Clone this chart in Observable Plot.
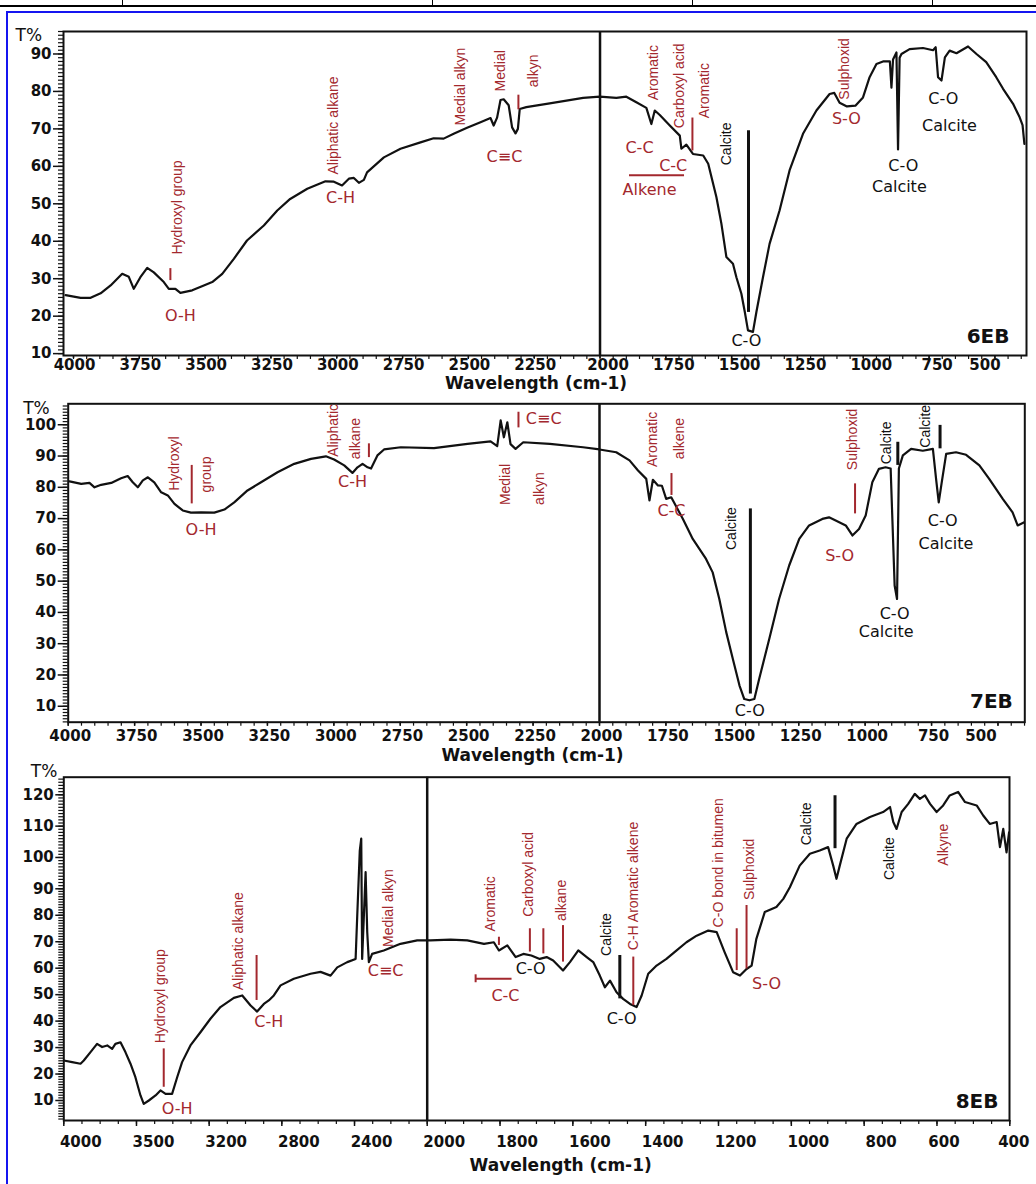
<!DOCTYPE html>
<html>
<head>
<meta charset="utf-8">
<script src="https://cdn.jsdelivr.net/npm/d3@7"></script>
<script src="https://cdn.jsdelivr.net/npm/@observablehq/plot@0.6"></script>
<style>
  html, body { margin: 0; padding: 0; background: #fff; }
  #page { position: relative; width: 1036px; height: 1184px; overflow: hidden; background: #fff; }
  .panel { position: absolute; left: 0; }
  .deco { position: absolute; }
</style>
</head>
<body>
<div id="page"></div>
<script>
// ---------------- DATA ----------------
// 6EB spectrum: wavenumber (cm-1) and transmittance (%)
const wn6EB = [4030,3973,3935,3897,3859,3815,3790,3771,3746,3720,3695,3657,3638,3613,3594,3549,3505,3473,3435,3391,3341,3277,3226,3177,3112,3043,3011,2980,2954,2935,2916,2897,2885,2821,2758,2682,2632,2594,2556,2505,2454,2416,2404,2391,2378,2366,2347,2334,2321,2312,2305,2280,2191,2064,2001,1938,1900,1862,1824,1805,1792,1773,1735,1697,1691,1672,1647,1608,1589,1558,1539,1520,1495,1482,1463,1450,1438,1419,1406,1381,1356,1318,1280,1229,1178,1128,1110,1090,1062,1030,1001,976,950,925,899,893,887,874,868,862,855,824,773,735,725,716,703,690,672,646,602,570,533,495,469,431,406,395,388];
const t6EB  = [25.6,24.9,24.9,26.1,28.2,31.3,30.5,27.3,30.4,32.9,31.7,29.1,27.3,27.3,26.2,26.9,28.2,29.1,31.3,35.3,40.2,44.2,48.2,51.3,54.0,56.0,55.9,54.9,56.7,56.9,55.6,56.4,58.4,62.4,64.7,66.4,67.5,67.4,68.7,70.3,71.8,72.9,70.9,73.0,77.7,77.9,76.3,70.4,68.8,70.0,75.3,75.8,76.8,78.3,78.6,78.3,78.6,77.1,75.6,71.3,74.9,73.7,70.9,68.2,64.7,65.8,63.3,62.9,60.7,51.8,44.7,35.8,34.0,30.4,26.0,21.1,16.2,15.8,21.1,30.4,39.3,48.2,58.9,68.7,74.9,79.3,79.6,77.0,76.0,76.2,78.4,83.8,87.3,88.0,88.0,81.0,88.5,90.4,64.5,89.0,90.0,91.3,91.6,91.0,91.8,83.8,82.9,89.1,90.9,90.2,92.0,90.0,87.8,83.8,80.7,76.7,73.1,71.0,66.0];

// 7EB spectrum
const wn7EB = [3995,3951,3920,3901,3876,3838,3801,3776,3757,3738,3719,3700,3676,3650,3625,3600,3569,3538,3500,3450,3412,3375,3325,3274,3212,3149,3086,3030,2999,2961,2930,2911,2892,2873,2860,2836,2811,2748,2623,2497,2410,2385,2372,2360,2347,2335,2316,2287,2187,2062,2000,1937,1887,1855,1824,1812,1799,1780,1765,1749,1730,1686,1649,1599,1574,1549,1523,1498,1473,1455,1436,1417,1399,1361,1324,1286,1248,1211,1161,1136,1111,1073,1048,1023,998,973,948,923,904,889,880,873,858,827,783,745,733,723,711,695,658,620,570,533,482,445,426,401];
const t7EB  = [81.9,81.1,81.4,80.0,80.8,81.4,82.9,83.6,81.6,80.0,82.2,83.2,81.6,78.4,77.4,74.7,72.6,71.9,72.0,71.9,72.9,75.2,79.0,81.6,84.8,87.5,89.1,89.9,88.9,87.0,84.6,86.4,87.5,86.4,86.0,90.2,92.1,92.8,92.5,93.9,94.7,93.2,101.4,96.0,100.8,93.8,92.3,94.4,93.9,92.8,92.1,91.2,88.6,85.4,82.7,75.8,82.4,80.6,80.5,76.3,76.8,69.9,63.5,57.1,52.8,44.3,33.7,25.1,16.6,12.3,11.9,12.3,18.7,31.5,44.3,55.0,63.5,67.8,69.9,70.4,69.4,67.8,64.6,66.7,71.0,81.6,85.9,86.4,86.0,48.6,44.3,86.0,90.2,92.3,91.7,92.3,82.7,75.2,82.0,90.7,91.2,90.4,87.0,82.7,76.3,72.0,67.8,68.8];

// 8EB spectrum
const wn8EB = [4000,3954,3908,3890,3853,3817,3789,3761,3734,3716,3688,3661,3633,3606,3578,3560,3532,3495,3468,3440,3404,3376,3349,3303,3248,3193,3138,3064,3018,2972,2936,2899,2872,2844,2807,2734,2642,2587,2532,2495,2440,2394,2385,2371,2363,2358,2339,2330,2321,2303,2239,2147,2055,1991,1936,1890,1844,1817,1803,1780,1757,1736,1714,1691,1672,1654,1627,1608,1585,1562,1544,1526,1512,1498,1480,1462,1443,1425,1411,1393,1370,1343,1315,1288,1260,1228,1205,1183,1160,1141,1123,1109,1096,1073,1041,1022,1004,977,949,922,899,885,876,867,848,821,784,748,729,720,711,697,679,661,647,633,619,601,583,565,542,523,491,473,455,436,427,418,409,402];
const t8EB  = [25.1,24.5,23.9,25.1,28.3,31.4,30.2,30.8,29.5,31.4,32.0,28.3,23.9,18.8,11.9,8.7,10.0,11.9,13.8,12.5,12.5,18.8,24.5,30.8,35.8,40.9,45.3,48.8,49.7,45.9,43.6,46.5,47.8,49.7,53.5,56.0,57.9,58.6,57.2,60.3,62.3,63.5,79.9,102.2,106.0,63.5,95.3,73.6,62.3,65.4,66.7,69.2,70.5,70.5,70.8,70.5,69.2,69.8,66.7,68.6,64.2,65.4,64.8,63.5,64.2,62.9,59.1,62.3,66.7,64.2,62.3,57.2,52.8,55.3,50.9,48.4,46.5,45.3,49.7,57.9,61.0,63.5,66.7,69.8,72.3,74.2,73.6,66.0,58.5,57.2,59.7,61.0,71.1,81.2,83.1,86.2,90.5,97.4,101.2,102.2,103.3,97.4,93.2,97.4,106.0,110.7,112.9,114.5,116.1,111.3,109.1,114.5,117.1,120.3,118.7,119.8,117.1,114.5,116.6,119.8,120.9,117.7,116.6,113.4,110.7,111.3,103.3,109.1,101.6,108.0];

// Tick values and labels
const xTicks6 = [4000,3750,3500,3250,3000,2750,2500,2250,2000,1750,1500,1250,1000,750,500];
const yTicks6 = [10,20,30,40,50,60,70,80,90];
const xTicks7 = [4000,3750,3500,3250,3000,2750,2500,2250,2000,1750,1500,1250,1000,750,500];
const yTicks7 = [10,20,30,40,50,60,70,80,90,100];
const xTicks8 = [4000,3600,3200,2800,2400,2000,1800,1600,1400,1200,1000,800,600,400];
const xLabels8 = ["4000","3500","3200","2800","2400","2000","1800","1600","1400","1200","1000","800","600","400"];
const yTicks8 = [10,20,30,40,50,60,70,80,90,100,110,120];

// Band annotations (wavenumber, transmittance, text, kind, rotated)
const labels6EB = [
  {w:3605, t:49,   text:"Hydroxyl group",   kind:"bond", rot:true},
  {w:3594, t:20.2, text:"O-H",              kind:"bond", rot:false},
  {w:3012, t:70.9, text:"Aliphatic alkane", kind:"bond", rot:true},
  {w:2986, t:51.7, text:"C-H",              kind:"bond", rot:false},
  {w:2530, t:81.3, text:"Medial alkyn",     kind:"bond", rot:true},
  {w:2378, t:85.5, text:"Medial",           kind:"bond", rot:true},
  {w:2253, t:85.5, text:"alkyn",            kind:"bond", rot:true},
  {w:2363, t:62.6, text:"C≡C",              kind:"bond", rot:false},
  {w:1797, t:85,   text:"Aromatic",         kind:"bond", rot:true},
  {w:1698, t:81.5, text:"Carboxyl acid",    kind:"bond", rot:true},
  {w:1603, t:80.2, text:"Aromatic",         kind:"bond", rot:true},
  {w:1850, t:65,   text:"C-C",              kind:"bond", rot:false},
  {w:1722, t:60.2, text:"C-C",              kind:"bond", rot:false},
  {w:1812, t:53.6, text:"Alkene",           kind:"bond", rot:false},
  {w:1520, t:66,   text:"Calcite",          kind:"mineral", rot:true},
  {w:1444, t:13.5, text:"C-O",              kind:"mineral", rot:false},
  {w:1072, t:86,   text:"Sulphoxid",        kind:"bond", rot:true},
  {w:1064, t:72.7, text:"S-O",              kind:"bond", rot:false},
  {w:848,  t:60.2, text:"C-O",              kind:"mineral", rot:false},
  {w:863,  t:54.4, text:"Calcite",          kind:"mineral", rot:false},
  {w:696,  t:78,   text:"C-O",              kind:"mineral", rot:false},
  {w:673,  t:70.9, text:"Calcite",          kind:"mineral", rot:false}
];
const marks6EB = [
  {w:3632, t1:29.5, t2:32.7, kind:"bond"},
  {w:2310, t1:75.1, t2:79,   kind:"bond"},
  {w:1649, t1:64.1, t2:72.9, kind:"bond"},
  {w:1436, t1:21,   t2:69.5, kind:"mineral"}
];
const spans6EB = [ {w1:1888, w2:1679, t:57.6} ];

const labels7EB = [
  {w:3600, t:87.6, text:"Hydroxyl",  kind:"bond", rot:true},
  {w:3481, t:84.1, text:"group",     kind:"bond", rot:true},
  {w:3500, t:66.5, text:"O-H",       kind:"bond", rot:false},
  {w:3000, t:98.2, text:"Aliphatic", kind:"bond", rot:true},
  {w:2917, t:95.6, text:"alkane",    kind:"bond", rot:true},
  {w:2930, t:81.6, text:"C-H",       kind:"bond", rot:false},
  {w:2353, t:80.9, text:"Medial",    kind:"bond", rot:true},
  {w:2224, t:79.6, text:"alkyn",     kind:"bond", rot:true},
  {w:2210, t:101.9, text:"C≡C",      kind:"bond", rot:false},
  {w:1800, t:95.3, text:"Aromatic",  kind:"bond", rot:true},
  {w:1698, t:95.6, text:"alkene",    kind:"bond", rot:true},
  {w:1729, t:72.6, text:"C-C",       kind:"bond", rot:false},
  {w:1504, t:66.8, text:"Calcite",   kind:"mineral", rot:true},
  {w:1434, t:8.6,  text:"C-O",       kind:"mineral", rot:false},
  {w:1048, t:95.3, text:"Sulphoxid", kind:"bond", rot:true},
  {w:1096, t:58.2, text:"S-O",       kind:"bond", rot:false},
  {w:921,  t:94.2, text:"Calcite",   kind:"mineral", rot:true},
  {w:889,  t:39.5, text:"C-O",       kind:"mineral", rot:false},
  {w:921,  t:33.7, text:"Calcite",   kind:"mineral", rot:false},
  {w:771,  t:99.5, text:"Calcite",   kind:"mineral", rot:true},
  {w:708,  t:69.4, text:"C-O",       kind:"mineral", rot:false},
  {w:696,  t:61.9, text:"Calcite",   kind:"mineral", rot:false}
];
const marks7EB = [
  {w:3535, t1:74.7, t2:87,   kind:"bond"},
  {w:2868, t1:89.5, t2:93.9, kind:"bond"},
  {w:2305, t1:99,   t2:104,  kind:"bond"},
  {w:1729, t1:77.4, t2:84.4, kind:"bond"},
  {w:1432, t1:13.9, t2:73.1, kind:"mineral"},
  {w:1038, t1:71.5, t2:81.1, kind:"bond"},
  {w:877,  t1:87,   t2:94.4, kind:"mineral"},
  {w:718,  t1:92.3, t2:99.8, kind:"mineral"}
];
const spans7EB = [];

const labels8EB = [
  {w:3468, t:49.4,  text:"Hydroxyl group",      kind:"bond", rot:true},
  {w:3376, t:6.9,   text:"O-H",                 kind:"bond", rot:false},
  {w:3037, t:70.2,  text:"Aliphatic alkane",    kind:"bond", rot:true},
  {w:2872, t:39.6,  text:"C-H",                 kind:"bond", rot:false},
  {w:2211, t:82.7,  text:"Medial alkyn",        kind:"bond", rot:true},
  {w:2229, t:59.1,  text:"C≡C",                 kind:"bond", rot:false},
  {w:1826, t:84.3,  text:"Aromatic",            kind:"bond", rot:true},
  {w:1785, t:49.7,  text:"C-C",                 kind:"bond", rot:false},
  {w:1716, t:59.9,  text:"C-O",                 kind:"mineral", rot:false},
  {w:1723, t:94.6,  text:"Carboxyl acid",       kind:"bond", rot:true},
  {w:1631, t:85.6,  text:"alkane",              kind:"bond", rot:true},
  {w:1508, t:72.7,  text:"Calcite",             kind:"mineral", rot:true},
  {w:1434, t:90.9,  text:"C-H Aromatic alkene", kind:"bond", rot:true},
  {w:1466, t:40.9,  text:"C-O",                 kind:"mineral", rot:false},
  {w:1201, t:98.3,  text:"C-O bond in bitumen", kind:"bond", rot:true},
  {w:1114, t:96.2,  text:"Sulphoxid",           kind:"bond", rot:true},
  {w:1068, t:54.1,  text:"S-O",                 kind:"bond", rot:false},
  {w:958,  t:110.7, text:"Calcite",             kind:"mineral", rot:true},
  {w:729,  t:99.6,  text:"Calcite",             kind:"mineral", rot:true},
  {w:583,  t:104.1, text:"Alkyne",              kind:"bond", rot:true}
];
const marks8EB = [
  {w:3450, t1:15,   t2:29.5, kind:"bond"},
  {w:2939, t1:47.8, t2:64.8, kind:"bond"},
  {w:1803, t1:68.6, t2:71.7, kind:"bond"},
  {w:1867, t1:54.5, t2:57.5, kind:"bond"},
  {w:1718, t1:66.1, t2:74.9, kind:"bond"},
  {w:1681, t1:65.4, t2:74.9, kind:"bond"},
  {w:1627, t1:62.3, t2:76.1, kind:"bond"},
  {w:1471, t1:48.4, t2:64.8, kind:"mineral"},
  {w:1434, t1:45.9, t2:64.2, kind:"bond"},
  {w:1150, t1:59.1, t2:74.9, kind:"bond"},
  {w:1123, t1:59.7, t2:83.7, kind:"bond"},
  {w:880,  t1:102.8, t2:119.7, kind:"mineral"}
];
const spans8EB = [ {w1:1867, w2:1767, t:56} ];

// ---------------- RENDER ----------------
const RED = "#a3282e";
const INK = "#111";
const SANS = "'DejaVu Sans', 'Liberation Sans', sans-serif";
const ARIAL = "'Liberation Sans', Arial, sans-serif";

function buildPanel(p) {
  const data = p.wn.map((w, i) => ({w, t: p.tr[i]}));
  const isMin = d => d.kind === "mineral";
  const rotB = p.labels.filter(d => d.rot && !isMin(d));
  const rotM = p.labels.filter(d => d.rot && isMin(d));
  const horB = p.labels.filter(d => !d.rot && !isMin(d));
  const horM = p.labels.filter(d => !d.rot && isMin(d));
  const xLabelMarks = p.xGroups.map(g =>
    Plot.axisX({ticks: g.ticks, tickSize: 0, tickPadding: p.xTickSize + p.xTickPad, tickFormat: p.xFormat,
                label: null, fontSize: 15, fontWeight: "bold", fontFamily: SANS, fill: INK, dx: g.dx}));
  return Plot.plot({
    width: 1036,
    height: p.height,
    marginTop: p.mt, marginBottom: p.mb, marginLeft: p.ml, marginRight: p.mr,
    x: {...p.x, label: null},
    y: {...p.y, label: null},
    style: {background: "transparent", overflow: "visible", fontFamily: SANS, color: INK},
    marks: [
      // minor and major ticks
      Plot.axisY({ticks: p.yMinor, tickSize: 5, tickFormat: () => "", label: null, stroke: INK, strokeWidth: 1.2}),
      Plot.axisY({ticks: p.yTicks, tickSize: p.yTickSize, tickFormat: () => "", label: null, stroke: INK, strokeWidth: 1.5}),
      Plot.axisY({ticks: p.yTicks, tickSize: 0, tickPadding: p.yTickSize + 2, label: null,
                  fontSize: 15, fontWeight: "bold", fontFamily: SANS, fill: INK}),
      Plot.axisX({ticks: p.xMinor, tickSize: 4, tickFormat: () => "", label: null, stroke: INK, strokeWidth: 1.2}),
      Plot.axisX({ticks: p.xTicks, tickSize: p.xTickSize, tickFormat: () => "", label: null, stroke: INK, strokeWidth: 1.5}),
      ...xLabelMarks,
      // divider at 2000 cm-1
      Plot.ruleX([2000], {stroke: INK, strokeWidth: 2.5}),
      Plot.frame({stroke: INK, strokeWidth: 2}),
      // spectrum
      Plot.line(data, {x: "w", y: "t", stroke: INK, strokeWidth: 2.2, clip: true}),
      // band markers
      Plot.ruleX(p.marks.filter(d => !isMin(d)), {x: "w", y1: "t1", y2: "t2", stroke: RED, strokeWidth: 2}),
      Plot.ruleX(p.marks.filter(isMin), {x: "w", y1: "t1", y2: "t2", stroke: INK, strokeWidth: 3}),
      Plot.ruleY(p.spans, {y: "t", x1: "w1", x2: "w2", stroke: RED, strokeWidth: 2}),
      // labels
      Plot.text(rotB, {x: "w", y: "t", text: "text", rotate: -90, fill: RED, fontFamily: ARIAL, fontSize: 14}),
      Plot.text(rotM, {x: "w", y: "t", text: "text", rotate: -90, fill: INK, fontFamily: ARIAL, fontSize: 14}),
      Plot.text(horB, {x: "w", y: "t", text: "text", fill: RED, fontFamily: SANS, fontSize: 16}),
      Plot.text(horM, {x: "w", y: "t", text: "text", fill: INK, fontFamily: SANS, fontSize: 16}),
      // sample name, axis title, y unit
      Plot.text([p.name], {frameAnchor: "bottom-right", textAnchor: "end", dx: p.nameDx, dy: p.nameDy,
                           fontSize: 20, fontWeight: "bold", fontFamily: SANS, fill: INK}),
      Plot.text(["Wavelength (cm-1)"], {frameAnchor: "bottom", dx: p.titleDx, dy: p.titleDy,
                           fontSize: 17, fontWeight: "bold", fontFamily: SANS, fill: INK}),
      Plot.text(["T%"], {frameAnchor: "top-left", textAnchor: "start", dx: p.tDx, dy: p.tDy,
                           fontSize: 17, fontFamily: SANS, fill: INK})
    ]
  });
}

const panels = [
  {
    top: 0, height: 395, mt: 31, mb: 40, ml: 63, mr: 10,
    x: {domain: [4038, 380]}, y: {domain: [9.5, 96]},
    wn: wn6EB, tr: t6EB, labels: labels6EB, marks: marks6EB, spans: spans6EB,
    xTicks: xTicks6, xMinor: d3.range(4000, 380, -50), xFormat: d => String(d), xTickSize: 3, xTickPad: 1,
    xGroups: [{ticks: xTicks6.filter(v => v > 2000), dx: 1},
              {ticks: xTicks6.filter(v => v <= 2000 && v > 500), dx: 8},
              {ticks: [500], dx: -10}],
    yTicks: yTicks6, yMinor: d3.range(10, 96.01, 1), yTickSize: 10,
    name: "6EB", nameDx: -17, nameDy: -13, titleDx: -9, titleDy: 33, tDx: -48, tDy: -3
  },
  {
    top: 390, height: 380, mt: 13.3, mb: 48.3, ml: 67.7, mr: 11.7,
    x: {domain: [4000, 399]}, y: {domain: [4.9, 106.7]},
    wn: wn7EB, tr: t7EB, labels: labels7EB, marks: marks7EB, spans: spans7EB,
    xTicks: xTicks7, xMinor: d3.range(4000, 399, -50), xFormat: d => String(d), xTickSize: 4, xTickPad: 4,
    xGroups: [{ticks: xTicks7.filter(v => v > 500), dx: 2}, {ticks: [500], dx: -17}],
    yTicks: yTicks7, yMinor: d3.range(5, 106.01, 1), yTickSize: 10,
    name: "7EB", nameDx: -12, nameDy: -14, titleDx: -14, titleDy: 39, tDx: -45, tDy: -2
  },
  {
    top: 750, height: 434, mt: 26.7, mb: 64, ml: 63.3, mr: 27,
    x: {type: "linear", domain: [4000, 2000, 400], range: [63.3, 426.7, 1009.3]},
    y: {type: "linear", domain: [10, 90, 120], range: [350, 138.3, 44.3]},
    wn: wn8EB, tr: t8EB, labels: labels8EB, marks: marks8EB, spans: spans8EB,
    xTicks: xTicks8, xMinor: d3.range(4000, 2000, -100).concat(d3.range(2000, 399, -50)),
    xFormat: d => xLabels8[xTicks8.indexOf(d)], xTickSize: 6, xTickPad: 10,
    xGroups: [{ticks: xTicks8.filter(v => v > 700), dx: 17}, {ticks: [600], dx: 7}, {ticks: [400], dx: 4}],
    yTicks: yTicks8, yMinor: d3.range(3, 125.01, 1), yTickSize: 8,
    name: "8EB", nameDx: -11, nameDy: -13, titleDx: 24, titleDy: 50, tDx: -33, tDy: -12
  }
];

const page = document.getElementById("page");

// decorative table edge and blue frame around the figure
function deco(style) {
  const d = document.createElement("div");
  d.className = "deco";
  Object.assign(d.style, style);
  page.appendChild(d);
}
deco({left: "0px", top: "5px", width: "1036px", height: "2px", background: "#000"});
for (const x of [122, 432, 692, 932]) deco({left: x + "px", top: "0px", width: "1px", height: "6px", background: "#000"});
deco({left: "6px", top: "11px", width: "1040px", height: "1200px", border: "2px solid #1515f0", boxSizing: "border-box"});

for (const p of panels) {
  const holder = document.createElement("div");
  holder.className = "panel";
  holder.style.top = p.top + "px";
  holder.appendChild(buildPanel(p));
  page.appendChild(holder);
}
</script>
</body>
</html>
